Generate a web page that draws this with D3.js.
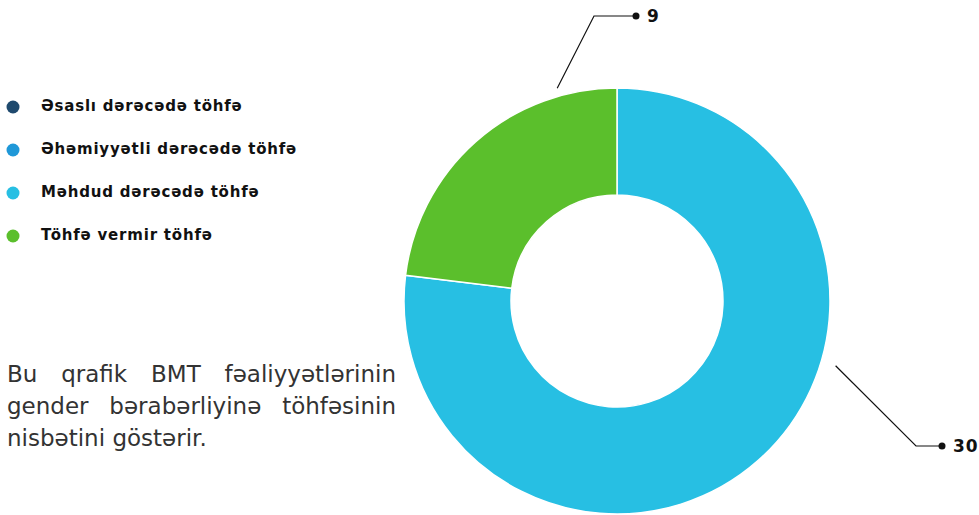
<!DOCTYPE html>
<html>
<head>
<meta charset="utf-8">
<script src="https://cdn.jsdelivr.net/npm/d3@7"></script>
<style>
  body { margin: 0; background: #fff; }
  #wrap { position: relative; width: 979px; height: 515px; overflow: hidden; }
  #note {
    position: absolute; left: 7px; top: 358px; width: 389px;
    font-family: "DejaVu Sans", sans-serif; font-weight: 400; font-size: 23px;
    line-height: 32px; color: #333;
  }
  #note div { text-align: justify; text-align-last: justify; white-space: nowrap; }
  #note div:last-child { text-align-last: left; }
</style>
</head>
<body>
<div id="wrap"></div>
<script>
const categories = ["Əsaslı dərəcədə töhfə", "Əhəmiyyətli dərəcədə töhfə", "Məhdud dərəcədə töhfə", "Töhfə vermir töhfə"];
const values = [0, 0, 30, 9];
const colors = ["#1f4a6e", "#1f98d8", "#27bfe3", "#5bbf2c"];
const noteLines = ["Bu qrafik BMT fəaliyyətlərinin", "gender bərabərliyinə töhfəsinin", "nisbətini göstərir."];

const width = 979, height = 515;
const cx = 617, cy = 301;
const outerR = 213, innerR = 106;

const wrap = d3.select("#wrap");
const svg = wrap.append("svg").attr("width", width).attr("height", height);

// legend
const legend = svg.append("g").attr("transform", "translate(13,106)");
const item = legend.selectAll("g").data(categories).enter().append("g")
    .attr("transform", (d, i) => `translate(0, ${i * 43})`);
item.append("circle").attr("r", 6.5).attr("cx", 0).attr("cy", 1).attr("fill", (d, i) => colors[i]);
item.append("text").attr("x", 28).attr("y", 4.5)
    .style("font-family", "'DejaVu Sans', sans-serif").style("font-weight", 700).style("font-size", "15px")
    .style("letter-spacing", "0.8px")
    .attr("fill", "#111").text(d => d);

// donut
const pie = d3.pie().sort(null).value(d => d);
const arcs = pie(values);
const arc = d3.arc().innerRadius(innerR).outerRadius(outerR);
const g = svg.append("g").attr("transform", `translate(${cx},${cy})`);
g.selectAll("path").data(arcs.filter(a => a.data > 0)).enter().append("path")
    .attr("d", arc)
    .attr("fill", d => colors[d.index])
    .attr("stroke", "#fff").attr("stroke-width", 1.5);

// leader lines - angle of anchor (deg from top, clockwise), elbow, end
const labelCfg = { 2: { ang: 106.5, r: 228, elbow: [299, 145], end: [325, 145] },
                   3: { ang: 344.3, r: 221, elbow: [-23, -285], end: [19, -285] } };
arcs.filter(a => a.data > 0).forEach(a => {
  const c = labelCfg[a.index];
  const t = c.ang * Math.PI / 180;
  const p0 = [c.r * Math.sin(t), -c.r * Math.cos(t)];
  g.append("path").attr("d", d3.line()([p0, c.elbow, c.end]))
      .attr("fill", "none").attr("stroke", "#111").attr("stroke-width", 1.2);
  g.append("circle").attr("cx", c.end[0]).attr("cy", c.end[1]).attr("r", 3.5).attr("fill", "#111");
  g.append("text").attr("x", c.end[0] + 11).attr("y", c.end[1] + 6)
      .style("font-family", "'DejaVu Sans', sans-serif").style("font-weight", 700).style("font-size", "17px")
      .style("letter-spacing", "1px")
      .attr("fill", "#111").text(a.data);
});

wrap.append("div").attr("id", "note").selectAll("div").data(noteLines).enter()
    .append("div").text(d => d);
</script>
</body>
</html>
